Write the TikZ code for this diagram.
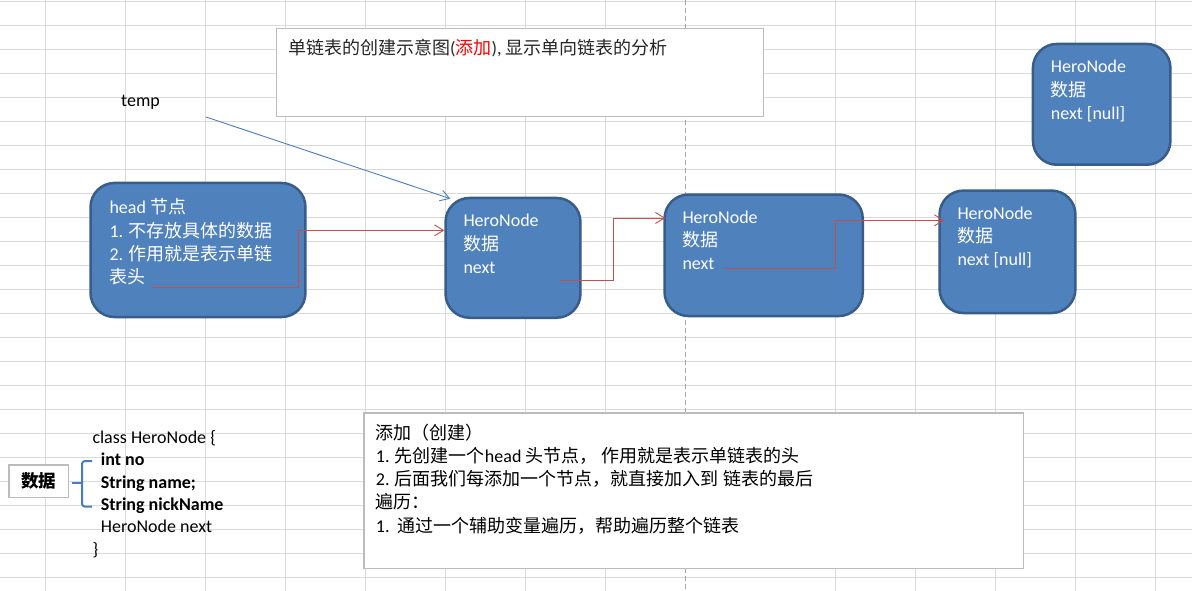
\documentclass[tikz,border=0pt]{standalone}
\usepackage{fontspec}
\setmainfont{Carlito}
\newfontfamily\cjk{Noto Sans CJK SC}
\usetikzlibrary{arrows.meta, positioning}

\definecolor{herofill}{HTML}{4F81BD}
\definecolor{heroedge}{HTML}{385D8A}
\definecolor{linkred}{HTML}{C0504D}
\definecolor{tempblue}{HTML}{4A7EBB}
\definecolor{gridgray}{HTML}{DADADA}
\definecolor{noteedge}{HTML}{BCBCBC}

\tikzset{
  hero/.style={draw=heroedge, fill=herofill, line width=2.5pt, rounded corners=24pt, inner sep=0pt},
  herotxt/.style={inner sep=0pt, align=left, text=white, font=\fontsize{18}{23.3}\selectfont},
  note/.style={draw=noteedge, fill=white, line width=1.2pt, inner sep=0pt},
  notetxt/.style={inner sep=0pt, align=left, font=\fontsize{18}{23.3}\selectfont},
  codetxt/.style={anchor=north west, inner sep=0pt, align=left, font=\fontsize{18}{22.3}\selectfont},
  link/.style={draw=linkred, line width=0.9pt, -{Straight Barb[length=9pt, width=11pt]}},
  tmplink/.style={draw=tempblue, line width=0.9pt, -{Straight Barb[length=9pt, width=11pt]}},
  brace/.style={draw=tempblue, line width=2pt}
}

\begin{document}
\begin{tikzpicture}[x=1pt, y=-1pt]
\useasboundingbox (0,0) rectangle (1192,591);
% sheet grid
\fill[white] (0,0) rectangle (1192,591);
\foreach \r in {0,...,24}
  \draw[gridgray, line width=1pt] (0,1.5+24*\r) -- (1192,1.5+24*\r);
\foreach \c in {45.7,125.7,...,605.7,835.7,915.7,...,1155.7}
  \draw[gridgray, line width=1pt] (\c,0) -- (\c,591);
% page break
\draw[gray!70, line width=1pt, dash pattern=on 5pt off 3pt] (685.7,0) -- (685.7,591);

% title
\node[note, minimum width=486.8pt, minimum height=87.8pt] (ttl) at (519.7,72.8) {};
\node[notetxt, text=black!85, below right=26.7pt and 12.3pt of ttl.north west, anchor=base west] (ttlt)
  {{\cjk 单链表的创建示意图}({\cjk\color{red}添加}), {\cjk 显示单向链表的分析}};

% list nodes
\node[hero, minimum width=214.9pt, minimum height=134.1pt] (head) at (198,250) {};
\node[hero, minimum width=134.9pt, minimum height=119.8pt] (hn1) at (513,257.85) {};
\node[hero, minimum width=198.2pt, minimum height=121.5pt] (hn2) at (763.65,255.3) {};
\node[hero, minimum width=135.9pt, minimum height=122.5pt] (hn3) at (1007.5,251.8) {};
\node[hero, minimum width=137.5pt, minimum height=120.8pt] (hn4) at (1101.7,104.35) {};

\node[herotxt, below right=15.5pt and 20pt of head.north west] (headt)
  {\strut head {\cjk 节点}\\1. {\cjk 不存放具体的数据}\\2. {\cjk 作用就是表示单链}\\{\cjk 表头}};
\node[herotxt, below right=13.5pt and 19pt of hn1.north west] (hn1t) {\strut HeroNode\\{\cjk 数据}\\next};
\node[herotxt, below right=13.5pt and 19pt of hn2.north west] (hn2t) {\strut HeroNode\\{\cjk 数据}\\next};
\node[herotxt, below right=13.5pt and 19pt of hn3.north west] (hn3t) {\strut HeroNode\\{\cjk 数据}\\next [null]};
\node[herotxt, below right=13.5pt and 19pt of hn4.north west] (hn4t) {\strut HeroNode\\{\cjk 数据}\\next [null]};

% pointers
\node[notetxt, anchor=base west] (templbl) at (121,107) {temp};
\coordinate (tmpptr) at (206,117);
\coordinate (headptr) at (152,287);
\coordinate (hn1ptr) at (560,280);
\coordinate (hn2ptr) at (725,268.3);
\draw[tmplink] (tmpptr) -- ([shift={(6pt,-2pt)}]hn1.north west);
\draw[link] (headptr) -- ++(146,0) |- ([yshift=27.5pt]hn1.west);
\draw[link] (hn1ptr) -- ++(53,0) |- ([shift={(2pt,37.3pt)}]hn2.west);
\draw[link] (hn2ptr) -- ++(110,0) |- ([shift={(6pt,31.5pt)}]hn3.west);

% class
\node[note, minimum width=59.8pt, minimum height=32.8pt, font=\fontsize{17.5}{20}\selectfont] (datalbl)
  at (38.8,481.3) {\cjk\bfseries 数据};
\node[codetxt] (code) at (92.3,427.7)
  {\strut class HeroNode \{\\
   \hspace*{8.4pt}\textbf{int no}\\
   \hspace*{8.4pt}\textbf{String name;}\\
   \hspace*{8.4pt}\textbf{String nickName}\\
   \hspace*{8.4pt}HeroNode next\\
   \}};
\draw[brace] ([shift={(2.4pt,-2pt)}]datalbl.east) -- ++(10,0);
\draw[brace, rounded corners=3pt] (92,461) -| (82,506.7) -- (92,506.7);

% steps
\node[note, minimum width=659.8pt, minimum height=155.5pt] (howto) at (693.8,490.65) {};
\node[notetxt, below right=10.2pt and 12.4pt of howto.north west] (howtot)
  {\strut{\cjk 添加（创建）}\\
   1. {\cjk 先创建一个}head {\cjk 头节点，\ 作用就是表示单链表的头}\\
   2. {\cjk 后面我们每添加一个节点，就直接加入到\ 链表的最后}\\
   {\cjk 遍历：}\\
   1.\ \ {\cjk 通过一个辅助变量遍历，帮助遍历整个链表}};
\end{tikzpicture}
\end{document}
